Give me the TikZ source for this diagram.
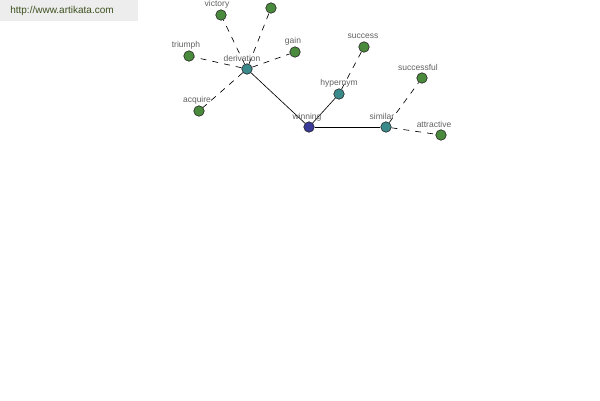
\documentclass[tikz,border=0pt]{standalone}
\usepackage{fontspec}
\setmainfont{Liberation Sans}
\definecolor{ngreen}{RGB}{74,138,60}
\definecolor{nteal}{RGB}{58,138,140}
\definecolor{nblue}{RGB}{58,58,153}
\definecolor{urltext}{RGB}{60,80,30}
\begin{document}
\begin{tikzpicture}[x=1pt,y=-1pt,
  dot/.style={circle,draw=black!85,line width=0.6pt,minimum size=10.5pt,inner sep=0pt},
  gdot/.style={dot,fill=ngreen},
  tdot/.style={dot,fill=nteal},
  bdot/.style={dot,fill=nblue},
  lbl/.style={font=\fontsize{8.5}{9}\selectfont,text=black!62,inner sep=0pt},
  dashedge/.style={dashed,dash pattern=on 6pt off 6pt,line width=0.65pt},
  solidedge/.style={line width=0.65pt}]
\useasboundingbox (0,0) rectangle (600,400);
\fill[black!7] (0,0) rectangle (138,21);
\node[font=\fontsize{10}{11}\selectfont,text=urltext] (url) at (62,11) {http://www.artikata.com};
% nodes
\node[bdot] (winning) at (309,127) {};
\node[tdot] (derivation) at (247,69) {};
\node[tdot] (hypernym) at (339,94) {};
\node[tdot] (similar) at (386,127) {};
\node[gdot] (victory) at (221,15) {};
\node[gdot] (unnamed) at (271,8) {};
\node[gdot] (triumph) at (189,56) {};
\node[gdot] (gain) at (295,52) {};
\node[gdot] (acquire) at (199,111) {};
\node[gdot] (success) at (364,47) {};
\node[gdot] (successful) at (422,78) {};
\node[gdot] (attractive) at (441,135) {};
% edges
\draw[solidedge] (winning) -- (derivation);
\draw[solidedge] (winning) -- (hypernym);
\draw[solidedge] (winning) -- (similar);
\draw[dashedge] (derivation) -- (victory);
\draw[dashedge] (derivation) -- (unnamed);
\draw[dashedge] (derivation) -- (triumph);
\draw[dashedge] (derivation) -- (gain);
\draw[dashedge] (derivation) -- (acquire);
\draw[dashedge] (hypernym) -- (success);
\draw[dashedge] (similar) -- (successful);
\draw[dashedge] (similar) -- (attractive);
% labels
\node[lbl] (lwinning) at (307,117) {winning};
\node[lbl] (lderivation) at (242,58) {derivation};
\node[lbl] (lhypernym) at (339,83) {hypernym};
\node[lbl] (lsimilar) at (382,116) {similar};
\node[lbl] (lvictory) at (217,4) {victory};
\node[lbl] (ltriumph) at (186,45) {triumph};
\node[lbl] (lgain) at (293,41) {gain};
\node[lbl] (lacquire) at (197,100) {acquire};
\node[lbl] (lsuccess) at (363,36) {success};
\node[lbl] (lsuccessful) at (418,67) {successful};
\node[lbl] (lattractive) at (434,124) {attractive};
\end{tikzpicture}
\end{document}
